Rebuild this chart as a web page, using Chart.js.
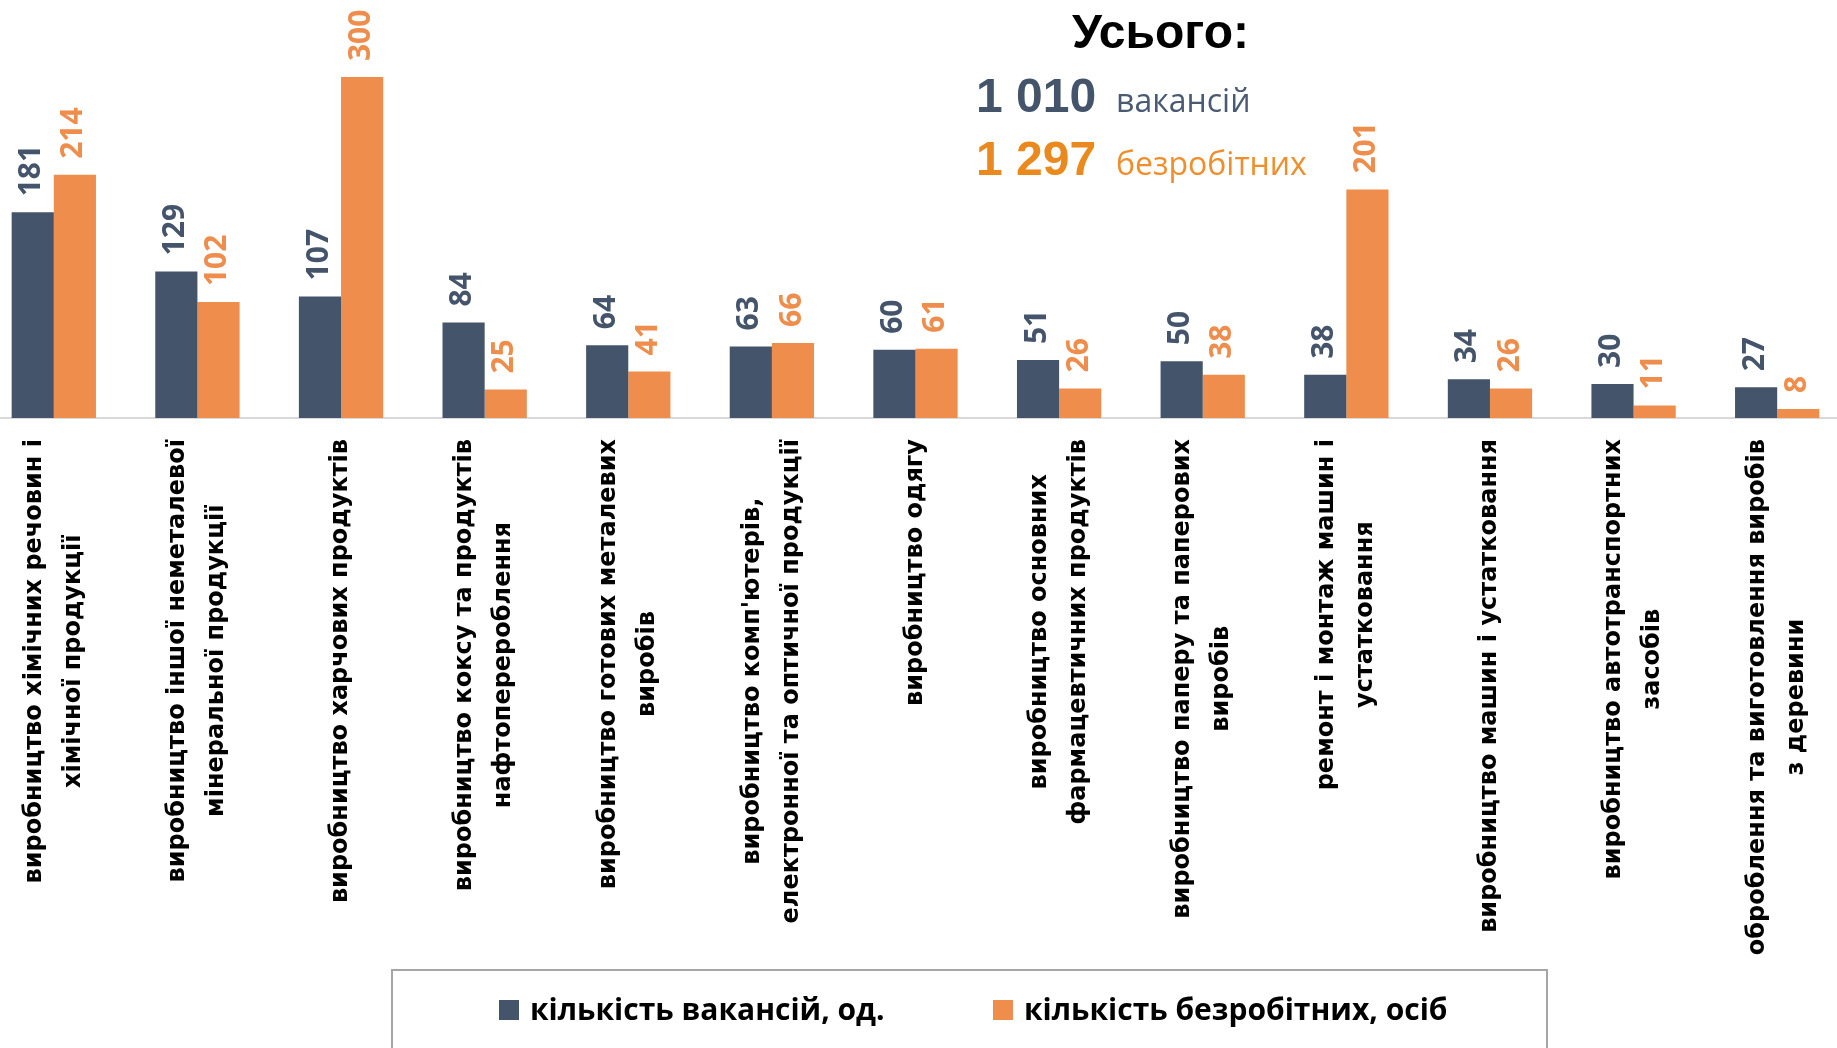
<!DOCTYPE html>
<html>
<head>
<meta charset="utf-8">
<script src="https://cdn.jsdelivr.net/npm/chart.js@4.4.0/dist/chart.umd.min.js"></script>
<style>
  html, body { margin: 0; padding: 0; background: #fff; overflow: hidden; }
  #wrap { position: relative; width: 1837px; height: 1048px; overflow: hidden; }
  #chart { position: absolute; left: -18px; top: 0; }
</style>
</head>
<body>
<div id="wrap"><canvas id="chart" width="1867" height="1048"></canvas></div>
<script>
// Categories (each one split into the lines it is printed on)
const categories = [
    ['виробництво хімічних речовин і', 'хімічної продукції'],
    ['виробництво іншої неметалевої', 'мінеральної продукції'],
    ['виробництво харчових продуктів'],
    ['виробництво коксу та продуктів', 'нафтоперероблення'],
    ['виробництво готових металевих', 'виробів'],
    ['виробництво комп\'ютерів,', 'електронної та оптичної продукції'],
    ['виробництво одягу'],
    ['виробництво основних', 'фармацевтичних продуктів'],
    ['виробництво паперу та паперових', 'виробів'],
    ['ремонт і монтаж машин і', 'устатковання'],
    ['виробництво машин і устатковання'],
    ['виробництво автотранспортних', 'засобів'],
    ['оброблення та виготовлення виробів', 'з деревини']
];
const vacancies = [181, 129, 107, 84, 64, 63, 60, 51, 50, 38, 34, 30, 27];
const unemployed = [214, 102, 300, 25, 41, 66, 61, 26, 38, 201, 26, 11, 8];
const seriesNames = ['кількість вакансій, од.', 'кількість безробітних, осіб'];
const seriesColors = ['#44546A', '#EE8D4C'];
const totalTitle = 'Усього:';
const totalLines = [
    { value: '1 010', word: 'вакансій', valueColor: '#44546A', wordColor: '#4A5A72' },
    { value: '1 297', word: 'безробітних', valueColor: '#EA8A1E', wordColor: '#EE8E2C' }
];

// canvas is shifted left so the first group sits at the page edge
const SHIFT = 18;

// rotated value above every bar
const valueLabels = {
    id: 'valueLabels',
    afterDatasetsDraw(chart) {
        const ctx = chart.ctx;
        ctx.save();
        ctx.font = 'bold 30px "Open Sans"';
        ctx.textAlign = 'left';
        ctx.textBaseline = 'middle';
        chart.data.datasets.forEach((ds, di) => {
            const meta = chart.getDatasetMeta(di);
            ctx.fillStyle = ds.backgroundColor;
            meta.data.forEach((bar, i) => {
                ctx.save();
                ctx.translate(bar.x - 1, bar.y - 16);
                ctx.rotate(-Math.PI / 2);
                ctx.fillText(String(ds.data[i]), 0, 0);
                ctx.restore();
            });
        });
        ctx.restore();
    }
};

// vertical category names under the axis, lines centred on each other
const categoryLabels = {
    id: 'categoryLabels',
    afterDraw(chart) {
        const ctx = chart.ctx;
        const xScale = chart.scales.x;
        const top = chart.chartArea.bottom + 21;
        const lineH = 39;
        ctx.save();
        ctx.font = 'bold 24px "DejaVu Sans"';
        ctx.fillStyle = '#000';
        ctx.textAlign = 'center';
        ctx.textBaseline = 'middle';
        categories.forEach((lines, i) => {
            const x = xScale.getPixelForTick(i);
            const w = Math.max(...lines.map(l => ctx.measureText(l).width));
            ctx.save();
            ctx.translate(x, top);
            ctx.rotate(-Math.PI / 2);
            lines.forEach((line, k) => {
                ctx.fillText(line, -w / 2, (k - (lines.length - 1) / 2) * lineH);
            });
            ctx.restore();
        });
        ctx.restore();
    }
};

// totals block in the top right and the boxed legend at the bottom
const extras = {
    id: 'extras',
    afterDraw(chart) {
        const ctx = chart.ctx;
        ctx.save();
        ctx.textBaseline = 'alphabetic';
        ctx.textAlign = 'left';

        ctx.fillStyle = '#000';
        ctx.font = 'bold 48px "Liberation Sans"';
        ctx.fillText(totalTitle, 1072 + SHIFT, 48);

        totalLines.forEach((t, k) => {
            const y = 112 + k * 63;
            ctx.fillStyle = t.valueColor;
            ctx.font = 'bold 48px "Liberation Sans"';
            ctx.fillText(t.value, 976 + SHIFT, y);
            ctx.fillStyle = t.wordColor;
            ctx.font = '32px "Open Sans"';
            ctx.fillText(t.word, 1116 + SHIFT, y);
        });

        ctx.strokeStyle = '#A6A6A6';
        ctx.lineWidth = 2;
        ctx.strokeRect(392 + SHIFT, 970, 1155, 100);

        const itemX = [499, 993];
        ctx.font = 'bold 30px "Liberation Sans Narrow", "Open Sans"';
        ctx.textBaseline = 'middle';
        seriesNames.forEach((name, k) => {
            ctx.fillStyle = seriesColors[k];
            ctx.fillRect(itemX[k] + SHIFT, 1000, 20, 20);
            ctx.fillStyle = '#000';
            ctx.fillText(name, itemX[k] + 31 + SHIFT, 1011);
        });
        ctx.restore();
    }
};

function initChart() {
    const ctx = document.getElementById('chart').getContext('2d');
    new Chart(ctx, {
        type: 'bar',
        data: {
            labels: categories.map(c => c.join(' ')),
            datasets: [
                { label: seriesNames[0], data: vacancies, backgroundColor: seriesColors[0] },
                { label: seriesNames[1], data: unemployed, backgroundColor: seriesColors[1] }
            ]
        },
        options: {
            responsive: false,
            animation: false,
            devicePixelRatio: 1,
            layout: { padding: { left: 0, right: 0, top: 0, bottom: 630 } },
            datasets: {
                bar: { categoryPercentage: 0.587, barPercentage: 1.0 }
            },
            scales: {
                x: {
                    grid: { display: false },
                    ticks: { display: false },
                    border: { display: true, color: '#D9D9D9', width: 2 },
                    afterFit: s => { s.height = 0; }
                },
                y: { display: false, min: 0, max: 367.8 }
            },
            plugins: {
                legend: { display: false },
                tooltip: { enabled: false }
            }
        },
        plugins: [valueLabels, categoryLabels, extras]
    });
}

window.onload = initChart;
</script>
</body>
</html>
